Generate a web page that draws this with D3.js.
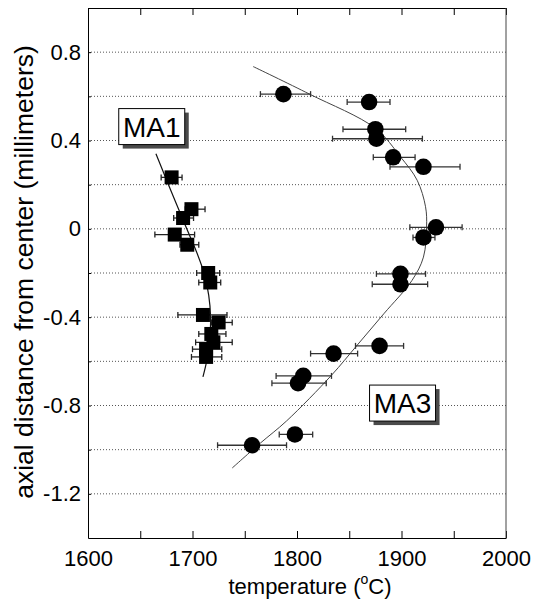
<!DOCTYPE html>
<html>
<head>
<meta charset="utf-8">
<script src="https://cdn.jsdelivr.net/npm/d3@7"></script>
<style>
  body { margin: 0; background: #fff; }
  text { font-family: "Liberation Sans", Arial, Helvetica, sans-serif; fill: #000; }
</style>
</head>
<body>
<script>
// MA1 squares: temperature, axial position, error bar ends
const ma1T  = [1680, 1699, 1691, 1683, 1695, 1715, 1717, 1710, 1725, 1718, 1720, 1713, 1713];
const ma1Y  = [0.233, 0.089, 0.049, -0.026, -0.072, -0.200, -0.243, -0.390, -0.424, -0.476, -0.514, -0.545, -0.580];
const ma1Lo = [1670, 1693, 1682, 1664, 1688, 1704, 1706, 1686, 1718, 1706, 1703, 1700, 1699];
const ma1Hi = [1690, 1712, 1701, 1702, 1706, 1726, 1727, 1733, 1738, 1732, 1738, 1728, 1728];

// MA3 circles
const ma3T  = [1787, 1869, 1875, 1876, 1892, 1921, 1933, 1921, 1899, 1899, 1879, 1835, 1806, 1801, 1798, 1757];
const ma3Y  = [0.61, 0.574, 0.451, 0.408, 0.324, 0.281, 0.007, -0.039, -0.204, -0.251, -0.53, -0.565, -0.666, -0.699, -0.931, -0.98];
const ma3Lo = [1765, 1848, 1844, 1834, 1873, 1889, 1908, 1911, 1876, 1872, 1856, 1813, 1780, 1776, 1783, 1724];
const ma3Hi = [1813, 1889, 1904, 1920, 1913, 1956, 1958, 1932, 1923, 1925, 1902, 1858, 1833, 1828, 1815, 1790];

// fitted curves
const ma1FitT = [1665, 1677, 1694.5, 1703.5, 1711, 1715.5, 1717.3, 1716.5, 1713.5, 1710];
const ma1FitY = [0.34, 0.2, 0.0, -0.1, -0.2, -0.3, -0.4, -0.5, -0.6, -0.67];
const ma3FitT = [1758, 1812, 1875, 1899, 1915, 1923, 1924, 1921, 1910, 1883, 1857, 1833, 1790, 1765, 1738];
const ma3FitY = [0.735, 0.61, 0.455, 0.326, 0.22, 0.1, 0.008, -0.128, -0.234, -0.385, -0.53, -0.663, -0.87, -0.97, -1.083];

// labels
const labelText = ["MA1", "MA3"];
const labelT = [1661, 1901];
const labelY = [0.463, -0.789];

const xTicks = [1600, 1700, 1800, 1900, 2000];
const xMinor = d3.range(1600, 2001, 50);
const yTicks = [0.8, 0.4, 0, -0.4, -0.8, -1.2];
const yGrid = d3.range(-1.2, 0.81, 0.2).map(v => +v.toFixed(1));

const width = 541, height = 600;
const margin = {left: 88, right: 35, top: 8, bottom: 62};

const svg = d3.select("body").append("svg")
    .attr("width", width)
    .attr("height", height);

const x = d3.scaleLinear().domain([1600, 2000]).range([margin.left, width - margin.right]);
const y = d3.scaleLinear().domain([-1.4, 1.0]).range([height - margin.bottom, margin.top]);

// grid
svg.append("g")
    .selectAll("line")
    .data(yGrid)
    .join("line")
    .attr("x1", x(1600)).attr("x2", x(2000))
    .attr("y1", d => y(d)).attr("y2", d => y(d))
    .attr("stroke", "#555")
    .attr("stroke-width", 1)
    .attr("stroke-dasharray", "1,2");

// bottom axis
const xAxis = svg.append("g")
    .attr("transform", `translate(0,${y(-1.4)})`)
    .call(d3.axisBottom(x).tickValues(xMinor).tickSizeInner(-7).tickSizeOuter(0).tickPadding(12)
        .tickFormat(d => xTicks.includes(d) ? d : ""));
xAxis.selectAll("text").style("font-size", "22px");

// top axis
svg.append("g")
    .attr("transform", `translate(0,${y(1.0)})`)
    .call(d3.axisTop(x).tickValues(xMinor).tickSizeInner(-7).tickSizeOuter(0).tickFormat(""));

// left axis
const yAxis = svg.append("g")
    .attr("transform", `translate(${x(1600)},0)`)
    .call(d3.axisLeft(y).tickValues(yGrid).tickSizeInner(-3).tickSizeOuter(0).tickPadding(7)
        .tickFormat(d => yTicks.includes(d) ? d3.format("")(d).replace("−", "-") : ""));
yAxis.selectAll("text").style("font-size", "22px");

svg.selectAll(".domain").attr("stroke", "#000");
svg.selectAll(".tick line").attr("stroke", "#000");

// right frame
svg.append("line")
    .attr("x1", x(2000)).attr("x2", x(2000))
    .attr("y1", y(1.0)).attr("y2", y(-1.4))
    .attr("stroke", "#444");

// axis titles
const xt = svg.append("text")
    .attr("x", (x(1600) + x(2000)) / 2 + 13)
    .attr("y", 594)
    .attr("text-anchor", "middle")
    .style("font-size", "22px");
xt.append("tspan").text("temperature (");
xt.append("tspan").attr("dy", -10).style("font-size", "14px").text("o");
xt.append("tspan").attr("dy", 10).text("C)");

svg.append("text")
    .attr("transform", "translate(33,272) rotate(-90)")
    .attr("text-anchor", "middle")
    .style("font-size", "26.5px")
    .text("axial distance from center (millimeters)");

// fit curves
const line = d3.line().curve(d3.curveCatmullRom);
svg.append("path")
    .attr("d", line(ma1FitT.map((t, i) => [x(t), y(ma1FitY[i])])))
    .attr("fill", "none")
    .attr("stroke", "#111")
    .attr("stroke-width", 1.2);
svg.append("path")
    .attr("d", line(ma3FitT.map((t, i) => [x(t), y(ma3FitY[i])])))
    .attr("fill", "none")
    .attr("stroke", "#444")
    .attr("stroke-width", 1);

// error bars
function errBars(T, Y, lo, hi, col) {
    const g = svg.append("g").attr("stroke", col).attr("stroke-width", 1.3);
    T.forEach((t, i) => {
        g.append("line").attr("x1", x(lo[i])).attr("x2", x(hi[i])).attr("y1", y(Y[i])).attr("y2", y(Y[i]));
        [lo[i], hi[i]].forEach(v => {
            g.append("line").attr("x1", x(v)).attr("x2", x(v)).attr("y1", y(Y[i]) - 3).attr("y2", y(Y[i]) + 3);
        });
    });
}
errBars(ma1T, ma1Y, ma1Lo, ma1Hi, "#222");
errBars(ma3T, ma3Y, ma3Lo, ma3Hi, "#333");

// markers
svg.append("g")
    .selectAll("rect")
    .data(ma1T)
    .join("rect")
    .attr("x", (d, i) => x(d) - 7)
    .attr("y", (d, i) => y(ma1Y[i]) - 7)
    .attr("width", 14).attr("height", 14)
    .attr("fill", "#000");

svg.append("g")
    .selectAll("circle")
    .data(ma3T)
    .join("circle")
    .attr("cx", d => x(d))
    .attr("cy", (d, i) => y(ma3Y[i]))
    .attr("r", 8.3)
    .attr("fill", "#000");

// label boxes with shadow
labelText.forEach((s, i) => {
    const cx = x(labelT[i]), cy = y(labelY[i]);
    const w = 66, h = 36;
    svg.append("rect")
        .attr("x", cx - w / 2 + 4).attr("y", cy - h / 2 + 4)
        .attr("width", w).attr("height", h)
        .attr("fill", "#4a4a4a");
    svg.append("rect")
        .attr("x", cx - w / 2).attr("y", cy - h / 2)
        .attr("width", w).attr("height", h)
        .attr("fill", "#fff")
        .attr("stroke", "#000")
        .attr("stroke-width", 1);
    svg.append("text")
        .attr("x", cx).attr("y", cy + 10)
        .attr("text-anchor", "middle")
        .style("font-size", "28px")
        .text(s);
});
</script>
</body>
</html>
